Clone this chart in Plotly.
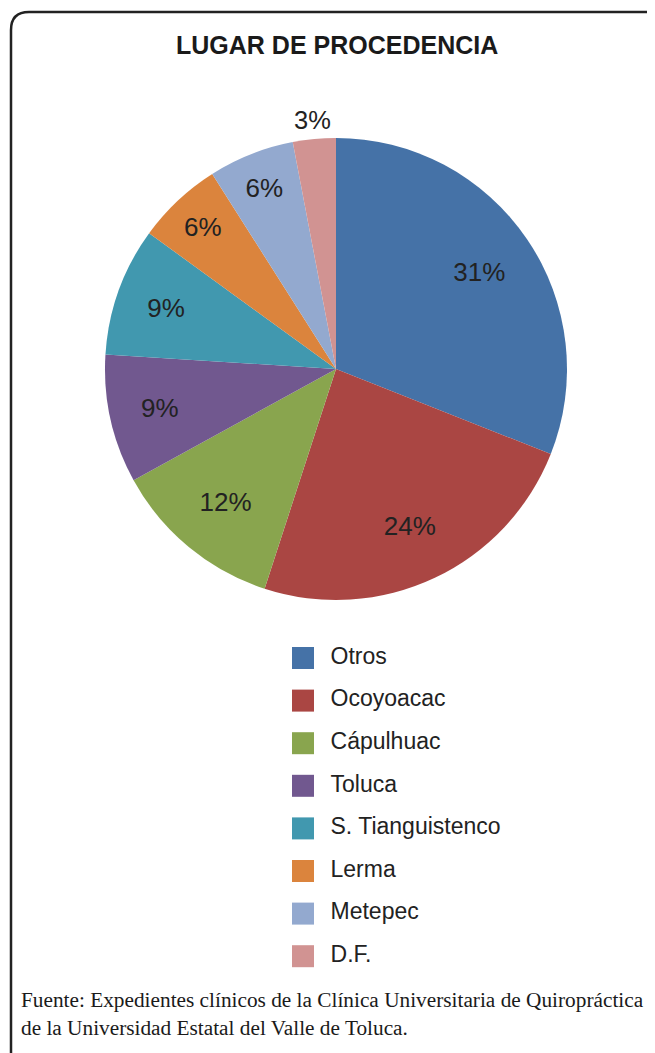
import plotly.graph_objects as go

categories = ["Otros", "Ocoyoacac", "Cápulhuac", "Toluca", "S. Tianguistenco", "Lerma", "Metepec", "D.F."]
values = [31, 24, 12, 9, 9, 6, 6, 3]
colors = ["#4572A7", "#AA4643", "#89A54E", "#71588F", "#4198AF", "#DB843D", "#93A9CF", "#D19392"]
# which slices have their label inside the slice (True) or just above it (False)
label_inside = [True] * 7 + [False]

title_text = "LUGAR DE PROCEDENCIA"
source_text = ("Fuente: Expedientes clínicos de la Clínica Universitaria de Quiropráctica<br>"
               "de la Universidad Estatal del Valle de Toluca.")

OFF = 8  # page body margin
W, H = 655 - OFF, 1053 - OFF


def px(x):
    return (x - OFF) / W


def py(y):
    return 1 - (y - OFF) / H


def dom(cx, cy, rad):
    return dict(x=[px(cx - rad), px(cx + rad)], y=[py(cy + rad), py(cy - rad)])


cx, cy, r = 336, 369, 231
label_font = dict(family="Liberation Sans, Arial, sans-serif", size=26, color="#222222")
clear = ["rgba(0,0,0,0)"] * len(categories)

fig = go.Figure()
# coloured slices
fig.add_trace(go.Pie(
    labels=categories, values=values, sort=False, direction="clockwise", rotation=0,
    marker=dict(colors=colors, line=dict(width=0)),
    textinfo="none", domain=dom(cx, cy, r), showlegend=False, hoverinfo="label+percent",
))
# transparent ring carrying the inside percentage labels
fig.add_trace(go.Pie(
    labels=categories, values=values, sort=False, direction="clockwise", rotation=0, hole=0.5,
    marker=dict(colors=clear, line=dict(width=0)),
    texttemplate=["%{percent}" if s else "" for s in label_inside],
    textposition="inside", insidetextorientation="horizontal", textfont=label_font,
    domain=dom(cx, cy, r), showlegend=False, hoverinfo="skip",
))
# transparent outer ring carrying the label placed above its slice
r_out = 274
fig.add_trace(go.Pie(
    labels=categories, values=values, sort=False, direction="clockwise", rotation=0, hole=226 / r_out,
    marker=dict(colors=clear, line=dict(width=0)),
    texttemplate=["" if s else "%{percent}" for s in label_inside],
    textposition="inside", insidetextorientation="horizontal", textfont=label_font,
    domain=dom(cx, cy, r_out), showlegend=False, hoverinfo="skip",
))

# legend drawn as a scatter on its own axes
fig.add_trace(go.Scatter(
    x=[0] * len(categories), y=categories, mode="markers+text",
    marker=dict(symbol="square", size=22, color=colors),
    text=["\u00a0\u00a0" + c for c in categories], textposition="middle right",
    textfont=dict(family="Liberation Sans, Arial, sans-serif", size=23, color="#222222"),
    showlegend=False, hoverinfo="skip", cliponaxis=False,
))

row_top, row_step = 658, 42.6
y_lo = py(row_top + row_step * 7.5)
y_hi = py(row_top - row_step * 0.5)

fig.update_layout(
    width=W, height=H, margin=dict(l=0, r=0, t=0, b=0),
    paper_bgcolor="white", plot_bgcolor="rgba(0,0,0,0)",
    xaxis=dict(domain=[px(303), 1], range=[0, 1], visible=False, fixedrange=True),
    yaxis=dict(domain=[y_lo, y_hi], range=[7.5, -0.5], type="category", visible=False, fixedrange=True),
    annotations=[
        dict(text="<b>" + title_text + "</b>", x=px(337), y=py(45), xref="paper", yref="paper",
             xanchor="center", yanchor="middle", showarrow=False,
             font=dict(family="Liberation Sans, Arial, sans-serif", size=25, color="#1a1a1a")),
        dict(text=source_text, x=px(19), y=py(986), xref="paper", yref="paper",
             xanchor="left", yanchor="top", align="left", showarrow=False,
             font=dict(family="Liberation Serif, Times New Roman, serif", size=21.3, color="#1a1a1a")),
    ],
    shapes=[dict(type="path", xref="paper", yref="paper",
                 path=f"M {px(11)},{py(1070)} L {px(11)},{py(30)} Q {px(11)},{py(12)} {px(29)},{py(12)} L {px(680)},{py(12)}",
                 line=dict(color="#222222", width=2.5))],
)

fig.write_html("out.html")
